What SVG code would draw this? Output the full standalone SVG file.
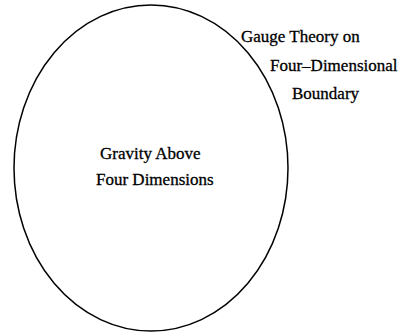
<svg xmlns="http://www.w3.org/2000/svg" width="401" height="336" viewBox="0 0 401 336">
<style>
  .t { font-family: "Liberation Serif", "Times New Roman", serif; font-size: 17px; fill: #000; stroke: #000; stroke-width: 0.3; }
  .bnd { fill: none; stroke: #000; stroke-width: 1.5; }
</style>
<rect width="401" height="336" fill="#fff"/>
<g id="bulk">
  <ellipse class="bnd" cx="151" cy="168" rx="137" ry="163"/>
  <text class="t" x="100" y="158.5">Gravity Above</text>
  <text class="t" x="96" y="185">Four Dimensions</text>
</g>
<g id="boundary">
  <text class="t" x="241" y="42">Gauge Theory on</text>
  <text class="t" x="270" y="71">Four–Dimensional</text>
  <text class="t" x="292" y="99">Boundary</text>
</g>
<g id="connectors"></g>
</svg>
